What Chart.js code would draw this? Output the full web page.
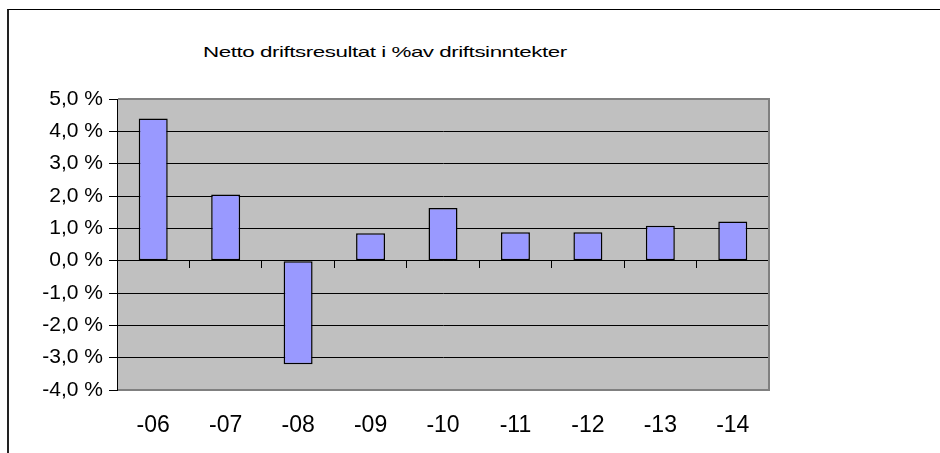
<!DOCTYPE html>
<html>
<head>
<meta charset="utf-8">
<script src="https://cdn.jsdelivr.net/npm/chart.js@4.4.1/dist/chart.umd.min.js"></script>
<style>
body{margin:0;background:#fff;}
#wrap{position:relative;width:940px;height:453px;overflow:hidden;}
#ramme{position:absolute;left:7px;top:9px;width:1000px;height:1000px;border-left:2px solid #222;border-top:1px solid #000;}
#tittel{position:absolute;left:203px;top:43px;font:15px "Liberation Sans",Arial,sans-serif;color:#000;white-space:nowrap;transform-origin:0 0;transform:scaleX(1.49);letter-spacing:-0.3px;}
canvas{position:absolute;left:0;top:0;}
</style>
</head>
<body>
<div id="wrap">
  <div id="ramme"></div>
  <div id="tittel">Netto driftsresultat i %av driftsinntekter</div>
  <canvas id="netto" width="940" height="453"></canvas>
</div>
<script>
// data lest av figuren
var aar = ['-06', '-07', '-08', '-09', '-10', '-11', '-12', '-13', '-14'];
var resultat = [4.4, 2.05, -3.2, 0.85, 1.63, 0.88, 0.88, 1.08, 1.21];
var yMin = -4;
var yMax = 5;
var ySteg = 1;

Chart.defaults.font.family = '"Liberation Sans", Arial, sans-serif';
Chart.defaults.color = '#000';

// grå bakgrunn og ramme rundt plottet
var plotBakgrunn = {
    id: 'plotBakgrunn',
    beforeDraw: function(chart) {
        var ctx = chart.ctx, a = chart.chartArea;
        ctx.save();
        ctx.fillStyle = '#c0c0c0';
        ctx.fillRect(a.left, a.top, a.right - a.left, a.bottom - a.top);
        ctx.restore();
    },
    afterDraw: function(chart) {
        var ctx = chart.ctx, a = chart.chartArea;
        ctx.save();
        ctx.strokeStyle = '#808080';
        ctx.lineWidth = 2;
        ctx.beginPath();
        ctx.moveTo(a.left + 1, a.top);
        ctx.lineTo(a.right, a.top);
        ctx.lineTo(a.right, a.bottom);
        ctx.lineTo(a.left + 1, a.bottom);
        ctx.stroke();
        ctx.restore();
    }
};

var ctx = document.getElementById('netto').getContext('2d');
var nettoChart = new Chart(ctx, {
    type: 'bar',
    data: {
        labels: aar,
        datasets: [{
            label: 'Netto driftsresultat',
            data: resultat,
            backgroundColor: '#9999ff',
            borderColor: '#000',
            borderWidth: 1.5,
            borderSkipped: false,
            barPercentage: 0.4,
            categoryPercentage: 1.0
        }]
    },
    options: {
        responsive: false,
        animation: false,
        layout: { padding: { left: 0, right: 171, top: 99, bottom: 0 } },
        plugins: {
            legend: { display: false },
            title: { display: false },
            tooltip: { enabled: false }
        },
        scales: {
            x: {
                position: 'bottom',
                grid: { display: false, drawTicks: false },
                border: { display: false },
                ticks: { font: { size: 23 }, padding: 22, maxRotation: 0 },
                afterFit: function(scale) { scale.height = 63; }
            },
            x0: {
                type: 'category',
                labels: aar,
                position: { y: 0 },
                offset: true,
                grid: { offset: true, drawOnChartArea: false, tickLength: 7, color: '#000' },
                border: { color: '#000', width: 1 },
                ticks: { display: false }
            },
            y: {
                position: 'left',
                min: yMin,
                max: yMax,
                ticks: {
                    stepSize: ySteg,
                    font: { size: 21 },
                    padding: 6,
                    callback: function(v) { return v.toFixed(1).replace('.', ',') + ' %'; }
                },
                grid: {
                    tickLength: 8,
                    tickColor: '#000',
                    color: function(c) {
                        if (c.tick && (c.tick.value === yMax || c.tick.value === yMin)) return '#808080';
                        return '#000';
                    }
                },
                border: { color: '#000', width: 1 },
                afterFit: function(scale) { scale.width = 117; }
            }
        }
    },
    plugins: [plotBakgrunn]
});
</script>
</body>
</html>
